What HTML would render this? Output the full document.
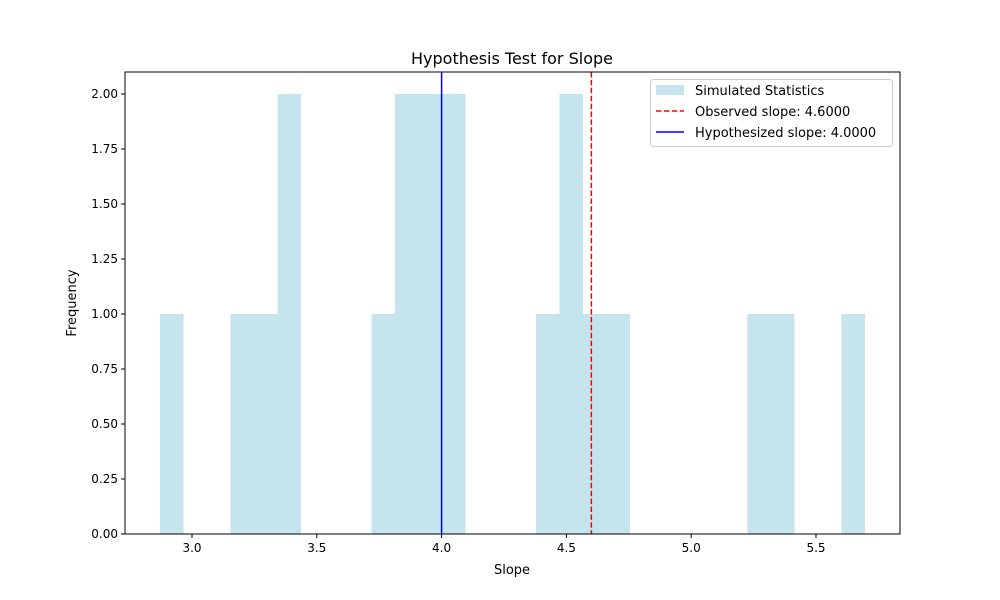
<!DOCTYPE html>
<html><head><meta charset="utf-8"><style>
body{margin:0;background:#fff}
svg{display:block;font-family:"DejaVu Sans","Liberation Sans",sans-serif}
</style></head><body>
<svg id="chart" width="1000" height="600">
<rect width="1000" height="600" fill="#fff"/>
<g id="bars"></g>
<g id="lines"></g>
<g id="axes"></g>
<text x="512" y="64" text-anchor="middle" font-size="16">Hypothesis Test for Slope</text>
<text x="512" y="574" text-anchor="middle" font-size="13">Slope</text>
<text transform="translate(76,303) rotate(-90)" text-anchor="middle" font-size="13">Frequency</text>
<g>
<rect x="650.5" y="79.5" width="242" height="67" rx="3" fill="#fff" fill-opacity="0.8" stroke="#ccc"/>
<rect x="656" y="85" width="28" height="10" fill="#add8e6" fill-opacity="0.7"/>
<text x="695" y="95" font-size="13">Simulated Statistics</text>
<line x1="656" y1="111" x2="684" y2="111" stroke="red" stroke-width="1.5" stroke-dasharray="5.5,2.4"/>
<text x="695" y="116" font-size="13">Observed slope: 4.6000</text>
<line x1="656" y1="132" x2="684" y2="132" stroke="blue" stroke-width="1.5"/>
<text x="695" y="137" font-size="13">Hypothesized slope: 4.0000</text>
</g>
</svg>
<script>
const binStart = 2.872;
const binEnd = 5.696;
const counts = [1,0,0,1,1,2,0,0,0,1,2,2,2,0,0,0,1,2,1,1,0,0,0,0,0,1,1,0,0,1];
const xTicks = [3.0,3.5,4.0,4.5,5.0,5.5];
const xTickLabels = ["3.0","3.5","4.0","4.5","5.0","5.5"];
const yTicks = [0,0.25,0.5,0.75,1,1.25,1.5,1.75,2];
const yTickLabels = ["0.00","0.25","0.50","0.75","1.00","1.25","1.50","1.75","2.00"];
const observed = 4.6;
const hypothesized = 4.0;

const L=125,R=900,T=72,B=534;
const xMin=2.7316,xMax=5.8365,yMax=2.1;
const sx=v=>L+(v-xMin)/(xMax-xMin)*(R-L);
const sy=v=>B-v/yMax*(B-T);
const NS="http://www.w3.org/2000/svg";
function mk(tag,attrs,parent){const e=document.createElementNS(NS,tag);for(const k in attrs)e.setAttribute(k,attrs[k]);parent.appendChild(e);return e;}
const bars=document.getElementById('bars'),lines=document.getElementById('lines'),axes=document.getElementById('axes');
const w=(binEnd-binStart)/counts.length;
counts.forEach((c,i)=>{if(!c)return;
 const x0=sx(binStart+i*w),x1=sx(binStart+(i+1)*w);
 const r=mk('rect',{x:x0,y:sy(c),width:x1-x0,height:sy(0)-sy(c),fill:'#add8e6','fill-opacity':0.7},bars);
 
 
});
const lo=mk('line',{x1:sx(observed),x2:sx(observed),y1:T,y2:B,stroke:'red','stroke-width':1.5,'stroke-dasharray':'5.5,2.4'},lines);


const lh=mk('line',{x1:sx(hypothesized),x2:sx(hypothesized),y1:T,y2:B,stroke:'blue','stroke-width':1.5},lines);


const fr=mk('rect',{x:L,y:T,width:R-L,height:B-T,fill:'none',stroke:'#000','stroke-width':1},axes);


xTicks.forEach((v,i)=>{const x=sx(v);
 mk('line',{x1:x,x2:x,y1:B,y2:B+4,stroke:'#000'},axes);
 const t=mk('text',{x:x,y:B+18,'text-anchor':'middle','font-size':12},axes);t.textContent=xTickLabels[i];
 
 
});
yTicks.forEach((v,i)=>{const y=sy(v);
 mk('line',{x1:L-4,x2:L,y1:y,y2:y,stroke:'#000'},axes);
 const t=mk('text',{x:L-7,y:y+4,'text-anchor':'end','font-size':12},axes);t.textContent=yTickLabels[i];
 
 
});
</script>
</body></html>
